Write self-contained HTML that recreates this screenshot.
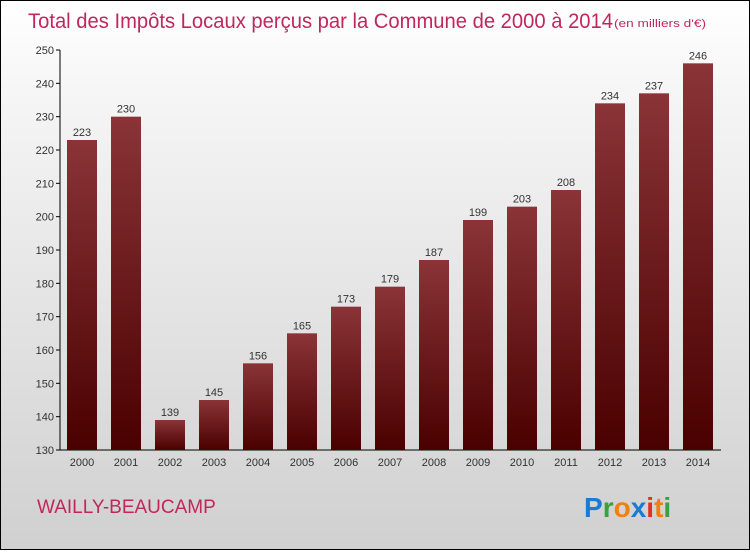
<!DOCTYPE html>
<html><head><meta charset="utf-8"><style>
body{margin:0;width:750px;height:550px;overflow:hidden;font-family:"Liberation Sans",sans-serif}
#wrap{position:relative;width:748px;height:548px;border:1px solid #000;background:linear-gradient(#ffffff,#f4f4f4 20%,#d0d0d0)}
</style></head><body>
<div id="wrap">
<svg width="748" height="548">
<defs><linearGradient id="bg" x1="0" x2="0" y1="0" y2="1"><stop offset="0" stop-color="#8a3438"/><stop offset="1" stop-color="#4a0000"/></linearGradient></defs>
<text x="27" y="27" font-size="21" fill="#c0285a" textLength="585" lengthAdjust="spacingAndGlyphs">Total des Impôts Locaux perçus par la Commune de 2000 à 2014</text>
<text x="613" y="26" font-size="11" fill="#c0285a" textLength="92" lengthAdjust="spacingAndGlyphs">(en milliers d'€)</text>
<g id="axes"></g><g id="bars"></g>
<text x="36" y="512" font-size="19" fill="#c0285a">WAILLY-BEAUCAMP</text>
<g font-size="28" font-weight="bold"><text x="583" y="516"><tspan fill="#1a7ad4">P</tspan><tspan fill="#3aa040">r</tspan><tspan fill="#f08010">o</tspan><tspan fill="#1a7ad4">x</tspan><tspan fill="#e03020">i</tspan><tspan fill="#f08010">t</tspan><tspan fill="#3aa040">i</tspan></text></g>
</svg></div>
<script>
const years=["2000","2001","2002","2003","2004","2005","2006","2007","2008","2009","2010","2011","2012","2013","2014"];
const values=[223,230,139,145,156,165,173,179,187,199,203,208,234,237,246];
const ticks=[130,140,150,160,170,180,190,200,210,220,230,240,250];
const NS="http://www.w3.org/2000/svg";
const y=v=>449-(v-130)*400/120;
const x=i=>81+i*44;
function mk(t,a,p){const e=document.createElementNS(NS,t);for(const k in a)e.setAttribute(k,a[k]);p.appendChild(e);return e;}
const ax=document.getElementById('axes'),bs=document.getElementById('bars');
const yl=mk('line',{x1:59,x2:59,y1:49,y2:449,stroke:'#000'},ax);


const xl=mk('line',{x1:59,x2:720,y1:449,y2:449,stroke:'#000'},ax);


ticks.forEach(t=>{mk('line',{x1:55,x2:59,y1:y(t),y2:y(t),stroke:'#000'},ax);
const tx=mk('text',{x:53,y:y(t)+4,'font-size':11,fill:'#333','text-anchor':'end'},ax);tx.textContent=t;

});
values.forEach((v,i)=>{const r=mk('rect',{x:x(i)-15,y:y(v),width:30,height:449-y(v),fill:'url(#bg)'},bs);


const l=mk('text',{x:x(i),y:y(v)-4,'font-size':11,fill:'#333','text-anchor':'middle'},bs);l.textContent=v;


const yt=mk('text',{x:x(i),y:465,'font-size':11,fill:'#333','text-anchor':'middle'},bs);yt.textContent=years[i];

});
</script>
</body></html>
